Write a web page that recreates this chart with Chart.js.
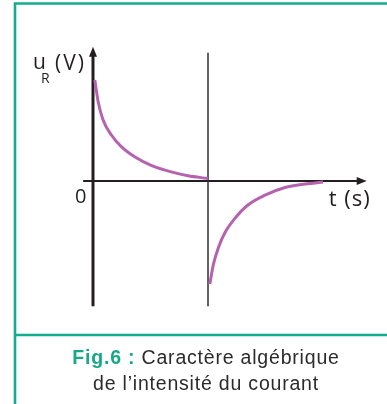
<!DOCTYPE html>
<html>
<head>
<meta charset="utf-8">
<script src="https://cdn.jsdelivr.net/npm/chart.js@4.4.0/dist/chart.umd.min.js"></script>
<style>
  body { margin: 0; background: #fff; }
  #wrap { position: relative; width: 387px; height: 404px; overflow: hidden; }
  #c { position: absolute; left: 0; top: 0; }
  .caption {
    position: absolute; left: 16px; width: 380px; top: 344px;
    text-align: center; font-family: "Liberation Sans", Arial, sans-serif;
    font-size: 19.5px; line-height: 26px; letter-spacing: 0.8px; color: #2b2b2b;
  }
  .caption b { color: #16a985; }
</style>
</head>
<body>
<div id="wrap">
  <canvas id="c" width="387" height="404"></canvas>
  <div class="caption"><b>Fig.6 :</b> Caractère algébrique<br>de l’intensité du courant</div>
</div>
<script>
// values (t in arbitrary units, u in units of E)
const tCharge = [0.08, 0.22, 0.43, 0.80, 1.23, 1.81, 2.53, 3.40, 4.13, 4.93, 5.0];
const uCharge = [1.00, 0.79, 0.61, 0.455, 0.34, 0.24, 0.155, 0.09, 0.052, 0.027, 0.025];
const tDecharge = [5.08, 5.23, 5.45, 5.74, 6.17, 6.75, 7.48, 8.35, 9.22, 10.0];
const uDecharge = [-1.02, -0.83, -0.66, -0.51, -0.37, -0.235, -0.14, -0.065, -0.03, -0.01];

const xLabel = "t (s)";
const originLabel = "0";

const curveColor = "#b563ae";
const axisColor = "#231f20";
const green = "#12ad8c";

const toPoints = (ts, us) => ts.map((t, i) => ({x: t, y: us[i]}));

const decor = {
    id: "decor",
    beforeDraw(chart) {
        const ctx = chart.ctx;
        ctx.save();
        ctx.fillStyle = "#fff";
        ctx.fillRect(0, 0, chart.width, chart.height);
        ctx.strokeStyle = green;
        ctx.lineWidth = 2.6;
        ctx.beginPath();
        ctx.moveTo(15, 404); ctx.lineTo(15, 3.5); ctx.lineTo(387, 3.5);
        ctx.moveTo(15, 335); ctx.lineTo(387, 335);
        ctx.stroke();
        ctx.restore();
    },
    beforeDatasetsDraw(chart) {
        const ctx = chart.ctx;
        const xs = chart.scales.x, ys = chart.scales.y;
        const x0 = xs.getPixelForValue(0), y0 = ys.getPixelForValue(0);
        ctx.save();
        ctx.strokeStyle = axisColor;
        ctx.fillStyle = axisColor;
        // vertical axis
        ctx.lineWidth = 3;
        ctx.beginPath();
        ctx.moveTo(x0, ys.getPixelForValue(-1.24));
        ctx.lineTo(x0, ys.getPixelForValue(1.24));
        ctx.stroke();
        const yTip = ys.getPixelForValue(1.33);
        ctx.beginPath();
        ctx.moveTo(x0, yTip); ctx.lineTo(x0 - 4, yTip + 10); ctx.lineTo(x0 + 4, yTip + 10);
        ctx.closePath(); ctx.fill();
        // horizontal axis
        ctx.lineWidth = 2;
        ctx.beginPath();
        ctx.moveTo(xs.getPixelForValue(-0.43), y0);
        ctx.lineTo(xs.getPixelForValue(11.6), y0);
        ctx.stroke();
        const xTip = xs.getPixelForValue(11.9);
        ctx.beginPath();
        ctx.moveTo(xTip, y0); ctx.lineTo(xTip - 10, y0 - 4); ctx.lineTo(xTip - 10, y0 + 4);
        ctx.closePath(); ctx.fill();
        // switching instant
        const xs5 = xs.getPixelForValue(5);
        ctx.lineWidth = 1.5;
        ctx.strokeStyle = "#2e2e2e";
        ctx.beginPath();
        ctx.moveTo(xs5, ys.getPixelForValue(1.27));
        ctx.lineTo(xs5, ys.getPixelForValue(-1.24));
        ctx.stroke();
        ctx.restore();
    },
    afterDraw(chart) {
        const ctx = chart.ctx;
        const xs = chart.scales.x, ys = chart.scales.y;
        const x0 = xs.getPixelForValue(0), y0 = ys.getPixelForValue(0);
        ctx.save();
        ctx.fillStyle = "#231f20";
        ctx.textBaseline = "alphabetic";
        ctx.font = '21px "Open Sans", sans-serif';
        ctx.fillText("u", x0 - 60, 69);
        ctx.letterSpacing = "2px";
        ctx.fillText("(V)", x0 - 38, 70);
        ctx.letterSpacing = "0px";
        ctx.font = '14px "Open Sans", sans-serif';
        ctx.fillText("R", x0 - 52, 83);
        ctx.font = '20px "Open Sans", sans-serif';
        ctx.fillText(originLabel, x0 - 18, y0 + 22);
        ctx.font = '22px "Open Sans", sans-serif';
        ctx.letterSpacing = "1px";
        ctx.fillText(xLabel, xs.getPixelForValue(10.25), y0 + 25);
        ctx.restore();
    }
};

new Chart(document.getElementById("c"), {
    type: "line",
    data: {
        datasets: [
            {data: toPoints(tCharge, uCharge), borderColor: curveColor},
            {data: toPoints(tDecharge, uDecharge), borderColor: curveColor}
        ]
    },
    options: {
        responsive: false,
        animation: false,
        devicePixelRatio: 1,
        layout: {padding: {left: 93, right: 64, top: 80, bottom: 122}},
        datasets: {
            line: {
                borderWidth: 3,
                pointRadius: 0,
                cubicInterpolationMode: "monotone",
                clip: false,
                fill: false
            }
        },
        scales: {
            x: {type: "linear", min: 0, max: 10, display: false},
            y: {type: "linear", min: -1, max: 1, display: false}
        },
        plugins: {legend: {display: false}, tooltip: {enabled: false}}
    },
    plugins: [decor]
});
</script>
</body>
</html>
